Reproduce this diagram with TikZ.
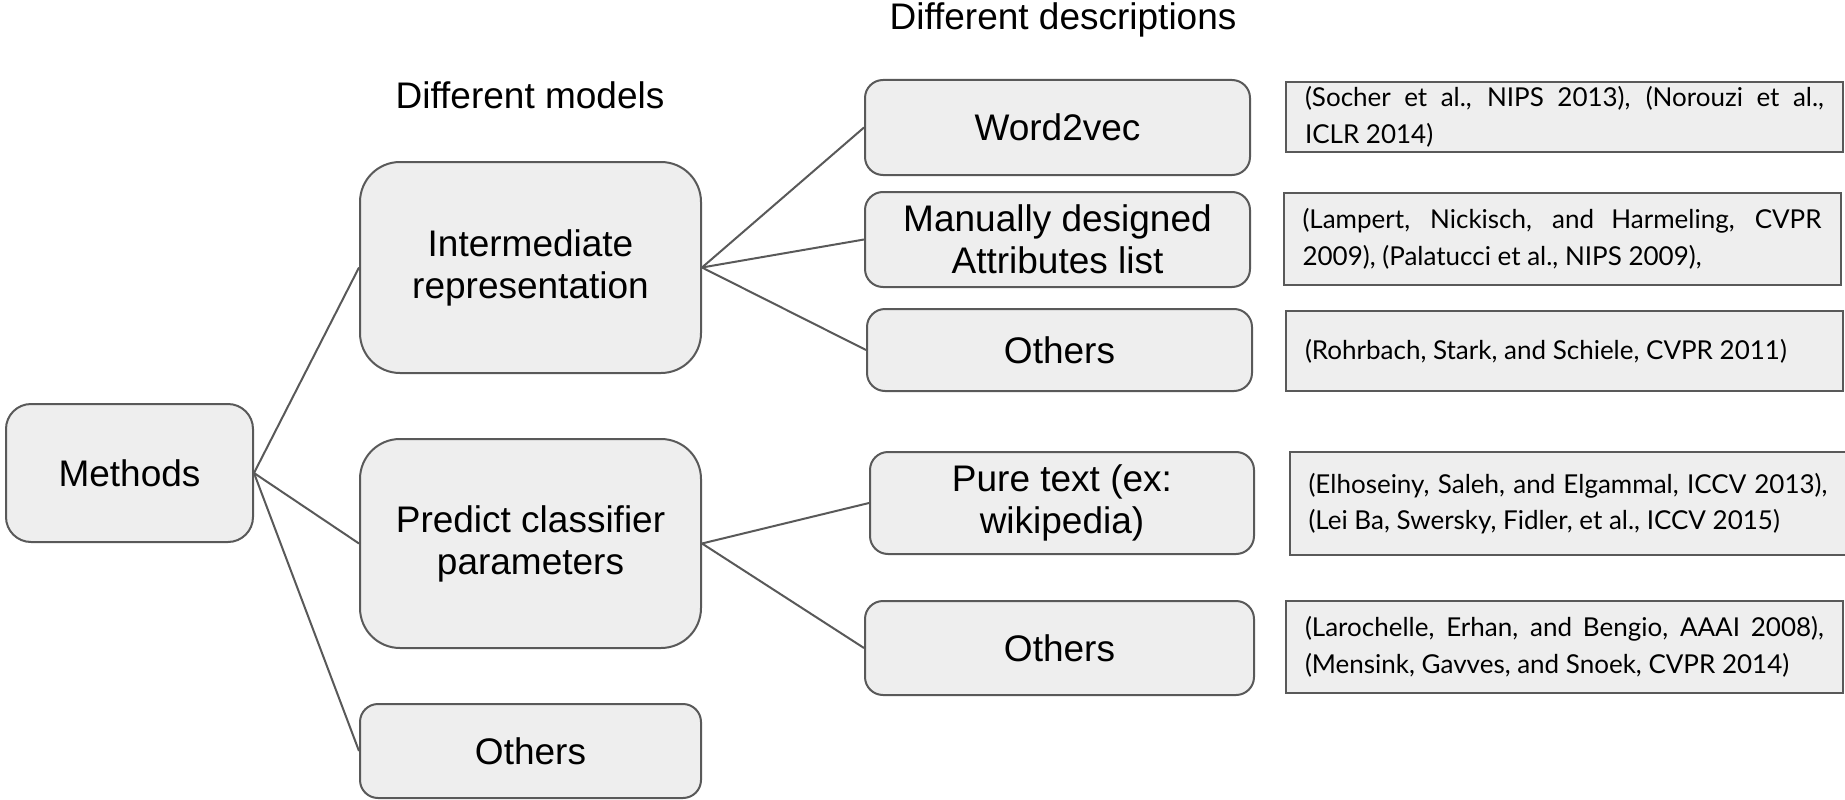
\documentclass[tikz,border=0pt]{standalone}
\usepackage{fontspec}
\setmainfont{Liberation Sans}
\newfontfamily\citefont{Lato}
\definecolor{boxfill}{HTML}{EEEEEE}
\definecolor{boxline}{HTML}{595959}
\hyphenpenalty=10000
\exhyphenpenalty=10000
\tikzset{
  mbox/.style={draw=boxline, fill=boxfill, line width=2pt, rounded corners=#1, align=center,
    font=\fontsize{37}{42}\selectfont, inner sep=0pt},
  mbox/.default=22pt,
  rbox/.style={draw=boxline, fill=boxfill, line width=2pt, inner xsep=19pt, inner ysep=0pt,
    text width=519pt, align=justify, font=\citefont\fontsize{26}{36.5}\selectfont},
  conn/.style={draw=boxline, line width=2pt},
  ttl/.style={font=\fontsize{37}{42}\selectfont, inner sep=0pt}
}
\begin{document}
\begin{tikzpicture}[x=1pt,y=-1pt]
\useasboundingbox (0,0) rectangle (1845,800);
% titles
\node[ttl] (t1) at (1063,20) {Different descriptions};
\node[ttl] (t2) at (530,95) {Different models};
% left column
\node[mbox=25pt, minimum width=247pt, minimum height=138pt] (methods) at (129.5,473) {Methods};
% models
\node[mbox=40pt, minimum width=341pt, minimum height=211pt] (inter) at (530.5,267.5) {Intermediate\\representation};
\node[mbox=40pt, minimum width=341pt, minimum height=209pt] (pred) at (530.5,543.5) {Predict classifier\\parameters};
\node[mbox=18pt, minimum width=341pt, minimum height=94pt] (oth0) at (530.5,751) {Others};
% descriptions
\node[mbox=18pt, minimum width=385pt, minimum height=95pt] (w2v) at (1057.5,127.5) {Word2vec};
\node[mbox=18pt, minimum width=385pt, minimum height=95pt] (man) at (1057.5,239.5) {Manually designed\\Attributes list};
\node[mbox=18pt, minimum width=385pt, minimum height=82pt] (oth1) at (1059.5,350) {Others};
\node[mbox=18pt, minimum width=384pt, minimum height=102pt] (pure) at (1062,503) {Pure text (ex:\\wikipedia)};
\node[mbox=18pt, minimum width=389pt, minimum height=94pt] (oth2) at (1059.5,648) {Others};
% references
\node[rbox, minimum height=70pt] (r1) at (1564.5,117) {(Socher et al., NIPS 2013), (Norouzi et al.,\linebreak ICLR 2014)};
\node[rbox, minimum height=92pt] (r2) at (1562,239) {(Lampert, Nickisch, and Harmeling, CVPR\linebreak 2009), (Palatucci et al., NIPS 2009),};
\node[rbox, minimum height=80pt] (r3) at (1564.5,351) {(Rohrbach, Stark, and Schiele, CVPR 2011)};
\node[rbox, minimum height=103pt] (r4) at (1568,503.5) {(Elhoseiny, Saleh, and Elgammal, ICCV 2013),\linebreak (Lei Ba, Swersky, Fidler, et al., ICCV 2015)};
\node[rbox, minimum height=92pt] (r5) at (1564.5,647) {(Larochelle, Erhan, and Bengio, AAAI 2008),\linebreak (Mensink, Gavves, and Snoek, CVPR 2014)};
% connectors
\draw[conn] (methods.east) -- (inter.west);
\draw[conn] (methods.east) -- (pred.west);
\draw[conn] (methods.east) -- (oth0.west);
\draw[conn] (inter.east) -- (w2v.west);
\draw[conn] (inter.east) -- (man.west);
\draw[conn] (inter.east) -- (oth1.west);
\draw[conn] (pred.east) -- (pure.west);
\draw[conn] (pred.east) -- (oth2.west);
\end{tikzpicture}
\end{document}
